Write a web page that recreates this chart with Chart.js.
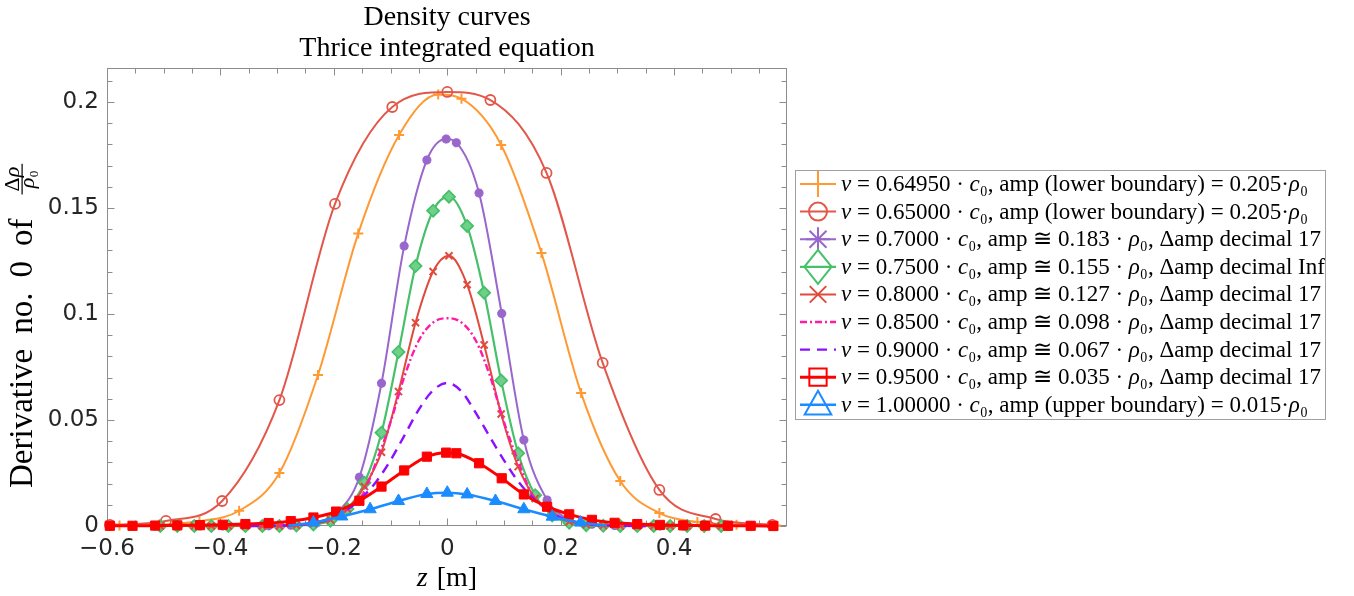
<!DOCTYPE html>
<html>
<head>
<meta charset="utf-8">
<title>Density curves</title>
<script src="https://cdn.jsdelivr.net/npm/chart.js@4.4.1/dist/chart.umd.min.js"></script>
<style>
  html, body { margin: 0; padding: 0; background: #ffffff; }
  canvas { display: block; }
</style>
</head>
<body>
<canvas id="densityChart" width="1354" height="596"></canvas>
<script>
// values (z in m, density in units of rho0)
const zOrange = [-0.578, -0.508, -0.437, -0.367, -0.296, -0.228, -0.157, -0.085, -0.016, 0.025, 0.095, 0.166, 0.236, 0.305, 0.374, 0.441, 0.51, 0.58];
const vOrange = [0.0002, 0.0007, 0.0022, 0.0072, 0.025, 0.0712, 0.138, 0.1844, 0.2035, 0.2015, 0.1797, 0.1288, 0.0627, 0.0212, 0.0061, 0.0019, 0.0006, 0.0002];

const zCircle = [-0.595, -0.496, -0.397, -0.296, -0.198, -0.097, 0, 0.076, 0.175, 0.274, 0.374, 0.473, 0.573];
const vCircle = [0.0005, 0.0024, 0.0118, 0.0594, 0.1519, 0.1976, 0.2047, 0.2009, 0.1665, 0.0769, 0.017, 0.0033, 0.0005];

// shared marker positions of the 0.70 and 0.95 curves
const zA = [-0.595, -0.555, -0.515, -0.476, -0.436, -0.396, -0.356, -0.315, -0.276, -0.236, -0.196, -0.155, -0.116, -0.076, -0.036, -0.002, 0.016, 0.056, 0.096, 0.135, 0.176, 0.215, 0.255, 0.295, 0.335, 0.375, 0.416, 0.455, 0.495, 0.535, 0.575];
const vPurple = [0, 0, 0, 0, 0, 0, 0, 0.0001, 0.0004, 0.0015, 0.006, 0.023, 0.0673, 0.132, 0.1726, 0.1825, 0.1808, 0.157, 0.1002, 0.0406, 0.0123, 0.003, 0.0008, 0.0002, 0, 0, 0, 0, 0, 0, 0];
const vSquare = [0.0001, 0.0001, 0.0002, 0.0003, 0.0004, 0.0006, 0.0009, 0.0014, 0.0023, 0.004, 0.0068, 0.0119, 0.0186, 0.0262, 0.0327, 0.0346, 0.0343, 0.0296, 0.0225, 0.0149, 0.0091, 0.0055, 0.0029, 0.0015, 0.0009, 0.0005, 0.0003, 0.0002, 0.0001, 0.0001, 0];

// shared marker positions of the 0.75 and 0.80 curves
const zB = [-0.506, -0.476, -0.446, -0.416, -0.386, -0.356, -0.326, -0.296, -0.266, -0.236, -0.206, -0.176, -0.146, -0.116, -0.086, -0.056, -0.025, 0.003, 0.035, 0.065, 0.095, 0.125, 0.155, 0.185, 0.215, 0.245, 0.275, 0.305, 0.335, 0.364, 0.393, 0.423, 0.453, 0.483];
const vGreen = [0, 0, 0, 0, 0, 0, 0, 0, 0.0002, 0.0007, 0.0025, 0.008, 0.0204, 0.044, 0.0821, 0.1226, 0.1487, 0.1553, 0.1415, 0.11, 0.0686, 0.0343, 0.0145, 0.005, 0.0015, 0.0004, 0.0001, 0, 0, 0, 0, 0, 0, 0];
const vRedX = [0, 0, 0, 0, 0, 0, 0, 0, 0.0003, 0.001, 0.003, 0.008, 0.0186, 0.0348, 0.0634, 0.0959, 0.12, 0.1274, 0.1138, 0.0854, 0.0528, 0.028, 0.013, 0.0055, 0.002, 0.0007, 0.0002, 0, 0, 0, 0, 0, 0, 0];

// dashed curves (no markers)
const zC = [-0.35, -0.3, -0.25, -0.2, -0.175, -0.15, -0.125, -0.1, -0.075, -0.05, -0.025, 0, 0.025, 0.05, 0.075, 0.1, 0.125, 0.15, 0.175, 0.2, 0.25, 0.3, 0.35];
const vPink = [0, 0.0001, 0.0008, 0.004, 0.008, 0.0145, 0.0305, 0.049, 0.071, 0.0876, 0.096, 0.098, 0.096, 0.0876, 0.071, 0.049, 0.0305, 0.0145, 0.008, 0.004, 0.0008, 0.0001, 0];
const vViolet = [0, 0.0002, 0.0008, 0.004, 0.008, 0.0135, 0.021, 0.031, 0.043, 0.055, 0.064, 0.0675, 0.0635, 0.0535, 0.042, 0.031, 0.021, 0.0135, 0.008, 0.004, 0.0008, 0.0002, 0];

const zBlue = [-0.28, -0.236, -0.186, -0.136, -0.086, -0.036, 0, 0.035, 0.085, 0.135, 0.185, 0.235, 0.28];
const vBlue = [0.0002, 0.0016, 0.0045, 0.0079, 0.0118, 0.0151, 0.0157, 0.0149, 0.0118, 0.0079, 0.0044, 0.0016, 0.0002];

const xTicks = [-0.6, -0.4, -0.2, 0, 0.2, 0.4];
const yTicks = [0, 0.05, 0.1, 0.15, 0.2];

const seriesLabels = [
    'v = 0.64950 · c₀, amp (lower boundary) = 0.205·ρ₀',
    'v = 0.65000 · c₀, amp (lower boundary) = 0.205·ρ₀',
    'v = 0.7000 · c₀, amp ≅ 0.183 · ρ₀, Δamp decimal 17',
    'v = 0.7500 · c₀, amp ≅ 0.155 · ρ₀, Δamp decimal Inf',
    'v = 0.8000 · c₀, amp ≅ 0.127 · ρ₀, Δamp decimal 17',
    'v = 0.8500 · c₀, amp ≅ 0.098 · ρ₀, Δamp decimal 17',
    'v = 0.9000 · c₀, amp ≅ 0.067 · ρ₀, Δamp decimal 17',
    'v = 0.9500 · c₀, amp ≅ 0.035 · ρ₀, Δamp decimal 17',
    'v = 1.00000 · c₀, amp (upper boundary) = 0.015·ρ₀'
];
const titleLines = ['Density curves', 'Thrice integrated equation'];
const yTitle = 'Derivative no. 0 of';
const xTitle = 'z [m]';

const SERIF = '"Liberation Serif", "DejaVu Serif", serif';
const SANS = '"DejaVu Sans", sans-serif';

function pts(z, v) {
    return z.map((x, i) => ({ x: x, y: v[i] }));
}

function makeSet(i, z, v, s) {
    return {
        label: seriesLabels[i],
        data: pts(z, v),
        borderColor: s.color,
        borderWidth: s.width || 2,
        borderDash: s.dash || [],
        pointStyle: s.mark || false,
        pointRadius: s.radius || 0,
        pointBorderWidth: s.markWidth || 1.8,
        pointBorderColor: s.color,
        pointBackgroundColor: s.fill || 'rgba(0,0,0,0)',
        cubicInterpolationMode: 'monotone',
        clip: false,
        order: 20 - i,
        legendMark: s.legendMark,
        legendRadius: s.legendRadius
    };
}

const datasets = [
    makeSet(0, zOrange, vOrange, { color: '#ff9933', mark: 'cross', radius: 5, markWidth: 2, legendMark: 'plus', legendRadius: 13 }),
    makeSet(1, zCircle, vCircle, { color: '#e3574a', mark: 'circle', radius: 5, markWidth: 1.8, legendMark: 'circle', legendRadius: 9 }),
    makeSet(2, zA, vPurple, { color: '#9966cc', mark: 'star', radius: 4.5, markWidth: 3, fill: '#9966cc', legendMark: 'star', legendRadius: 12 }),
    makeSet(3, zB, vGreen, { color: '#47c06a', mark: 'rectRot', radius: 6, markWidth: 1.8, fill: '#6fd08a', width: 2.2, legendMark: 'diamond', legendRadius: 17 }),
    makeSet(4, zB, vRedX, { color: '#e04a3c', mark: 'crossRot', radius: 5, markWidth: 2, legendMark: 'x', legendRadius: 11 }),
    makeSet(5, zC, vPink, { color: '#ff1ba8', width: 2.4, dash: [7, 3, 2, 3] }),
    makeSet(6, zC, vViolet, { color: '#8a10ff', width: 2.4, dash: [10, 7] }),
    makeSet(7, zA, vSquare, { color: '#ff0000', mark: 'rect', radius: 6.5, markWidth: 1, fill: '#ff0000', width: 3, legendMark: 'square', legendRadius: 12 }),
    makeSet(8, zBlue, vBlue, { color: '#1a8cff', mark: 'triangle', radius: 7, markWidth: 1, fill: '#1a8cff', width: 2.5, legendMark: 'triangle', legendRadius: 14 })
];
// the blue curve has no marker on its two end points
datasets[8].pointRadius = ctx => (ctx.dataIndex === 0 || ctx.dataIndex === zBlue.length - 1) ? 0 : 7;

function fmtTick(v) {
    const r = Math.round(v * 100) / 100;
    return r === 0 ? '0' : String(r).replace('-', '\u2212');
}

function isItalic(text, i) {
    const ch = text[i];
    if (ch === 'ρ') return true;
    if ((ch === 'v' || ch === 'z') && i === 0) return true;
    if (ch === 'c' && text[i + 1] === '₀') return true;
    return false;
}

// draws text char by char so that single symbols can be italic; spaceW widens word gaps
function drawRich(ctx, text, x, y, size, spaceW) {
    let cx = x;
    for (let i = 0; i < text.length; i++) {
        ctx.font = (isItalic(text, i) ? 'italic ' : '') + size + 'px ' + SERIF;
        if (text[i] === ' ' && spaceW) { cx += spaceW; continue; }
        ctx.fillText(text[i], cx, y);
        cx += ctx.measureText(text[i]).width;
    }
    return cx - x;
}

function richWidth(ctx, text, size, spaceW) {
    let w = 0;
    for (let i = 0; i < text.length; i++) {
        ctx.font = (isItalic(text, i) ? 'italic ' : '') + size + 'px ' + SERIF;
        w += (text[i] === ' ' && spaceW) ? spaceW : ctx.measureText(text[i]).width;
    }
    return w;
}

function drawMark(ctx, style, x, y, r) {
    ctx.beginPath();
    if (style === 'plus') {
        ctx.moveTo(x - r, y); ctx.lineTo(x + r, y);
        ctx.moveTo(x, y - r); ctx.lineTo(x, y + r);
    } else if (style === 'circle') {
        ctx.arc(x, y, r, 0, Math.PI * 2);
    } else if (style === 'star') {
        for (let k = 0; k < 4; k++) {
            const a = k * Math.PI / 4;
            ctx.moveTo(x - r * Math.cos(a), y - r * Math.sin(a));
            ctx.lineTo(x + r * Math.cos(a), y + r * Math.sin(a));
        }
    } else if (style === 'diamond') {
        ctx.moveTo(x, y - r); ctx.lineTo(x + r * 0.8, y); ctx.lineTo(x, y + r); ctx.lineTo(x - r * 0.8, y); ctx.closePath();
    } else if (style === 'x') {
        const d = r * 0.75;
        ctx.moveTo(x - d, y - d); ctx.lineTo(x + d, y + d);
        ctx.moveTo(x - d, y + d); ctx.lineTo(x + d, y - d);
    } else if (style === 'square') {
        const d = r * 0.72;
        ctx.rect(x - d, y - d, 2 * d, 2 * d);
    } else if (style === 'triangle') {
        ctx.moveTo(x, y - r); ctx.lineTo(x + r * 0.95, y + r * 0.7); ctx.lineTo(x - r * 0.95, y + r * 0.7); ctx.closePath();
    }
    ctx.stroke();
}

// box round the axes with inward ticks on all four sides
const framePlugin = {
    id: 'frame',
    beforeDatasetsDraw(chart) {
        const { ctx, chartArea: a, scales: { x, y } } = chart;
        const L = Math.round(a.left) + 0.5, R = Math.round(a.right) - 0.5;
        const T = Math.round(a.top) + 0.5, B = Math.round(a.bottom) - 0.5;
        ctx.save();
        ctx.strokeStyle = '#8c8c8c';
        ctx.lineWidth = 1;
        ctx.strokeRect(L, T, R - L, B - T);
        ctx.beginPath();
        for (let k = -12; k <= 12; k++) {
            const v = k * 0.05;
            if (v < x.min - 1e-9 || v > x.max + 1e-9) continue;
            const px = Math.round(x.getPixelForValue(v)) + 0.5;
            const len = k % 4 === 0 ? 7 : 5;
            ctx.moveTo(px, B); ctx.lineTo(px, B - len);
            ctx.moveTo(px, T); ctx.lineTo(px, T + len);
        }
        for (let k = 0; k <= 21; k++) {
            const v = k * 0.01;
            if (v > y.max + 1e-9) continue;
            const py = Math.round(y.getPixelForValue(v)) + 0.5;
            const len = k % 5 === 0 ? 7 : 5;
            ctx.moveTo(L, py); ctx.lineTo(L + len, py);
            ctx.moveTo(R, py); ctx.lineTo(R - len, py);
        }
        ctx.stroke();
        ctx.restore();
    }
};

// title, axis titles and the boxed legend
const textPlugin = {
    id: 'texts',
    afterDraw(chart) {
        const { ctx, chartArea: a } = chart;
        const cx = (a.left + a.right) / 2;
        ctx.save();
        ctx.fillStyle = '#000000';
        ctx.textBaseline = 'alphabetic';

        // title
        ctx.textAlign = 'center';
        ctx.font = '28px ' + SERIF;
        ctx.fillText(titleLines[0], cx, 25);
        ctx.fillText(titleLines[1], cx, 56);

        // x title
        ctx.textAlign = 'left';
        const xw = richWidth(ctx, xTitle, 28, 9);
        drawRich(ctx, xTitle, cx - xw / 2, 586, 28, 9);

        // y title with the fraction
        ctx.save();
        ctx.translate(32, 488);
        ctx.rotate(-Math.PI / 2);
        const w = drawRich(ctx, yTitle, 0, 0, 33, 15);
        const nw = richWidth(ctx, 'Δρ', 22), dw = richWidth(ctx, 'ρ₀', 22);
        const fw = Math.max(nw, dw) + 6;
        const fx = w + 24;
        drawRich(ctx, 'Δρ', fx + (fw - nw) / 2, -13, 22);
        drawRich(ctx, 'ρ₀', fx + (fw - dw) / 2, 2, 22);
        ctx.fillRect(fx, -10.5, fw, 1.2);
        ctx.restore();

        // legend
        const box = { left: 795.5, top: 170.5, width: 530, height: 249 };
        ctx.fillStyle = '#ffffff';
        ctx.fillRect(box.left, box.top, box.width, box.height);
        ctx.strokeStyle = '#a0a0a0';
        ctx.lineWidth = 1;
        ctx.strokeRect(box.left, box.top, box.width, box.height);
        chart.data.datasets.forEach((ds, i) => {
            const ry = 184 + i * 27.6;
            ctx.strokeStyle = ds.borderColor;
            ctx.lineWidth = ds.borderWidth;
            ctx.setLineDash(ds.borderDash || []);
            ctx.beginPath();
            ctx.moveTo(800, ry); ctx.lineTo(836, ry);
            ctx.stroke();
            ctx.setLineDash([]);
            if (ds.legendMark) {
                ctx.lineWidth = 2;
                drawMark(ctx, ds.legendMark, 818, ry, ds.legendRadius);
            }
            ctx.fillStyle = '#000000';
            ctx.textBaseline = 'middle';
            drawRich(ctx, ds.label, 841, ry + 1, 23);
        });
        ctx.restore();
    }
};

const chart = new Chart(document.getElementById('densityChart').getContext('2d'), {
    type: 'line',
    data: { datasets: datasets },
    options: {
        responsive: false,
        animation: false,
        events: [],
        layout: { padding: { left: 0, right: 567, top: 68, bottom: 0 } },
        plugins: {
            legend: { display: false },
            title: { display: false },
            tooltip: { enabled: false }
        },
        scales: {
            x: {
                type: 'linear',
                min: -0.6,
                max: 0.599,
                grid: { display: false, drawTicks: false },
                border: { display: false },
                ticks: {
                    padding: 9,
                    color: '#262626',
                    font: { family: SANS, size: 23 },
                    maxRotation: 0,
                    autoSkip: false,
                    callback: fmtTick
                },
                afterBuildTicks(scale) { scale.ticks = xTicks.map(v => ({ value: v })); },
                afterFit(scale) { scale.height = 70; }
            },
            y: {
                type: 'linear',
                min: 0,
                max: 0.216,
                grid: { display: false, drawTicks: false },
                border: { display: false },
                ticks: {
                    padding: 8,
                    color: '#262626',
                    font: { family: SANS, size: 23 },
                    callback: fmtTick
                },
                afterBuildTicks(scale) { scale.ticks = yTicks.map(v => ({ value: v })); },
                afterFit(scale) { scale.width = 107; }
            }
        }
    },
    plugins: [framePlugin, textPlugin]
});
</script>
</body>
</html>
